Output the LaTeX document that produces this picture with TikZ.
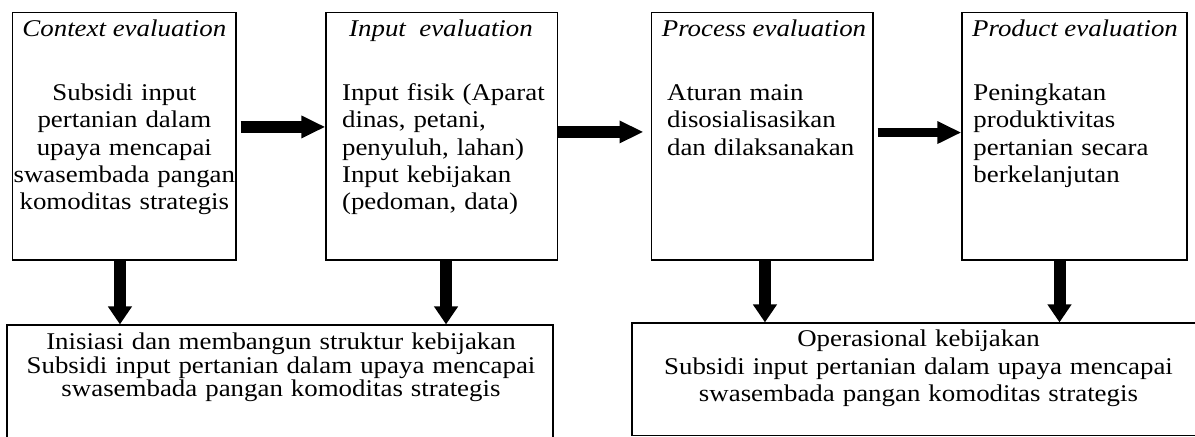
\documentclass[tikz,border=0pt]{standalone}
\usepackage{fontspec}
\setmainfont{Liberation Serif}[FakeStretch=1.12]
\usepackage{tikz}
\usetikzlibrary{arrows.meta}
\usetikzlibrary{positioning}
\tikzset{
    stage/.style={draw=black, line width=0.6pt, inner sep=0pt, minimum height=123.65pt},
    stagetitle/.style={anchor=base, inner sep=0pt, font=\fontsize{12pt}{13.65pt}\selectfont\itshape},
    stagetext/.style={inner sep=0pt, text width=114pt, font=\fontsize{12pt}{13.65pt}\selectfont},
    policy/.style={draw=black, line width=0.6pt, inner sep=0pt},
    policytext/.style={anchor=base, inner sep=0pt, text width=284pt, align=center},
    flow/.style={draw=black, line width=6pt, -{Triangle[length=12pt,width=10.5pt]}},
    drop/.style={draw=black, line width=6pt, -{Triangle[length=9pt,width=11.5pt]}},
}
\begin{document}
\begin{tikzpicture}[x=0.5pt, y=-0.5pt]
		\useasboundingbox (0,0) rectangle (1195,437);
		% evaluation stages
		\node[stage, minimum width=111.65pt] (ctx) at (124.35,136.35) {};
		\node[stage, minimum width=115.65pt] (inp) at (441.65,136.35) {};
		\node[stage, minimum width=110.65pt] (prc) at (762.35,136.35) {};
		\node[stage, minimum width=112.5pt] (prd) at (1074.5,136.35) {};
		%
		\node[stagetitle] (ctxtitle) at (124.35,36.7) {Context evaluation};
		\node[stagetitle] (inptitle) at (441,36.7) {Input\ \ evaluation};
		\node[stagetitle] (prctitle) at (764,36.7) {Process evaluation};
		\node[stagetitle] (prdtitle) at (1075,36.7) {Product evaluation};
		%
		\node[stagetext, anchor=base, align=center] (ctxtext) at (124.35,100.7)
			{Subsidi input\\ pertanian dalam\\ upaya mencapai\\ swasembada pangan\\ komoditas strategis};
		\node[stagetext, anchor=base west, align=left] (inptext) at (341.7,100.5)
			{Input fisik (Aparat\\ dinas, petani,\\ penyuluh, lahan)\\ Input kebijakan\\ (pedoman, data)};
		\node[stagetext, anchor=base west, align=left] (prctext) at (666.7,100.5)
			{Aturan main\\ disosialisasikan\\ dan dilaksanakan};
		\node[stagetext, anchor=base west, align=left] (prdtext) at (973,100.5)
			{Peningkatan\\ produktivitas\\ pertanian secara\\ berkelanjutan};
		% policy boxes
		\node[policy, minimum width=273pt, minimum height=60pt] (init) at (280,385) {};
		\node[policy, minimum width=286.5pt, minimum height=56.15pt] (oper) at (918.5,379.15) {};
		\node[policytext, font=\fontsize{12pt}{11.75pt}\selectfont] (inittext) at (281,350)
			{Inisiasi dan membangun struktur kebijakan\\ Subsidi input pertanian dalam upaya mencapai\\ swasembada pangan komoditas strategis};
		\node[policytext, font=\fontsize{12pt}{13.75pt}\selectfont] (opertext) at (918.5,347)
			{Operasional kebijakan\\ Subsidi input pertanian dalam upaya mencapai\\ swasembada pangan komoditas strategis};
		% arrows
		\draw[flow, shorten <=2pt] ([yshift=4.7pt]ctx.east) -- ([yshift=4.7pt]inp.west);
		\draw[flow, shorten >=3.8pt] ([yshift=2.2pt]inp.east) -- ([yshift=2.2pt]prc.west);
		\draw[flow, line width=4.5pt, shorten <=2pt] ([yshift=1.9pt]prc.east) -- ([yshift=1.9pt]prd.west);
		%
		\coordinate (d1) at ([xshift=-2.2pt]ctx.south);
		\coordinate (d2) at ([xshift=2.2pt]inp.south);
		\coordinate (d3) at ([xshift=1.3pt]prc.south);
		\coordinate (d4) at ([xshift=-7.5pt]prd.south);
		\draw[drop] (d1) -- (d1 |- init.north);
		\draw[drop] (d2) -- (d2 |- init.north);
		\draw[drop] (d3) -- (d3 |- oper.north);
		\draw[drop] (d4) -- (d4 |- oper.north);
	\end{tikzpicture}
\end{document}
